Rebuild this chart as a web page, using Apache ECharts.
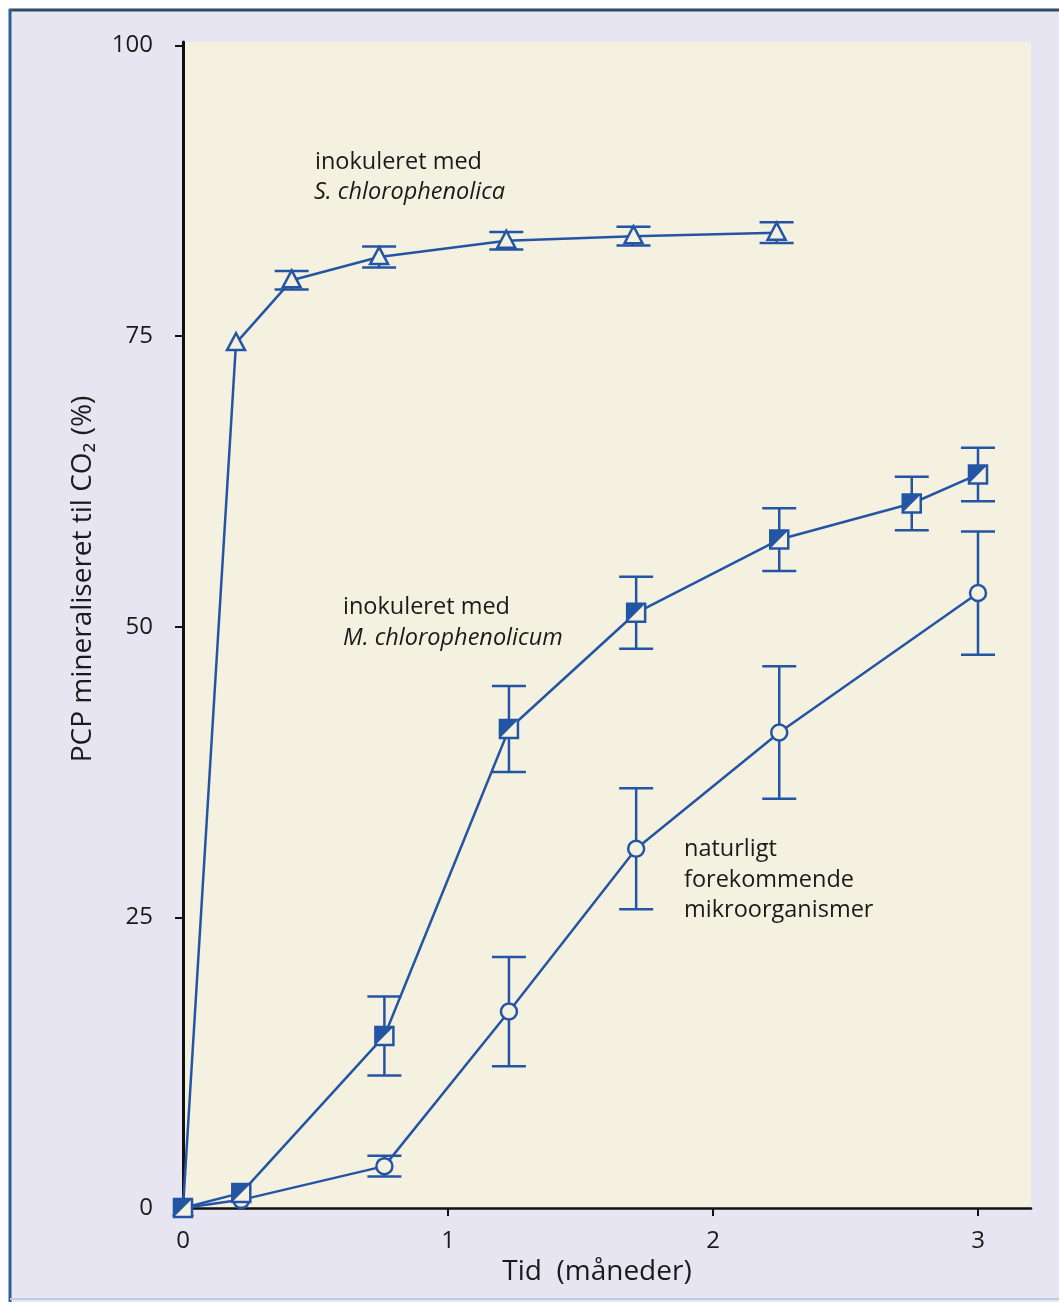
<!DOCTYPE html>
<html>
<head>
<meta charset="utf-8">
<script src="https://cdn.jsdelivr.net/npm/echarts@6/dist/echarts.min.js"></script>
<style>
  html, body { margin: 0; padding: 0; background: #fff; }
  #chart { width: 1059px; height: 1302px; }
</style>
</head>
<body>
<div id="chart"></div>
<script>
// data: [time in months, % mineralised, +/- error]
var sTime = [0, 0.20, 0.41, 0.74, 1.22, 1.70, 2.24];
var sValue = [0, 74.4, 79.8, 81.8, 83.2, 83.6, 83.9];
var sErr = [0, 0, 0.8, 0.9, 0.75, 0.8, 0.9];

var mTime = [0, 0.22, 0.76, 1.23, 1.71, 2.25, 2.75, 3.0];
var mValue = [0, 1.3, 14.8, 41.2, 51.2, 57.5, 60.6, 63.1];
var mErr = [0, 0, 3.4, 3.7, 3.1, 2.7, 2.3, 2.3];

var nTime = [0, 0.22, 0.76, 1.23, 1.71, 2.25, 3.0];
var nValue = [0, 0.7, 3.6, 16.9, 30.9, 40.9, 52.9];
var nErr = [0, 0, 0.9, 4.7, 5.2, 5.7, 5.3];

var xTicks = [0, 1, 2, 3];
var yTicks = [0, 25, 50, 75, 100];

var blue = '#2455a4';
var beige = '#f5f1e0';
var font = '"Open Sans", "Noto Sans", sans-serif';

function zipPts(t, v, e) {
  var out = [];
  for (var i = 0; i < t.length; i++) out.push([t[i], v[i], e[i]]);
  return out;
}

// error bar + marker, marker is 'tri', 'sq' or 'circ'
function makeRender(kind) {
  return function (params, api) {
    var x = api.value(0), y = api.value(1), e = api.value(2);
    var p = api.coord([x, y]);
    var kids = [];
    var lw = 2.5, cap = 17;
    if (e > 0) {
      var top = api.coord([x, y + e]);
      var bot = api.coord([x, y - e]);
      var st = { stroke: blue, lineWidth: lw };
      kids.push({ type: 'line', shape: { x1: p[0], y1: top[1], x2: p[0], y2: bot[1] }, style: st });
      kids.push({ type: 'line', shape: { x1: p[0] - cap, y1: top[1], x2: p[0] + cap, y2: top[1] }, style: st });
      kids.push({ type: 'line', shape: { x1: p[0] - cap, y1: bot[1], x2: p[0] + cap, y2: bot[1] }, style: st });
    }
    var ms = { stroke: blue, lineWidth: 2.5, fill: beige };
    if (kind === 'tri') {
      kids.push({ type: 'polygon', shape: { points: [[p[0], p[1] - 10], [p[0] + 9, p[1] + 7], [p[0] - 9, p[1] + 7]] }, style: ms });
    } else if (kind === 'sq') {
      var h = 9;
      kids.push({ type: 'rect', shape: { x: p[0] - h, y: p[1] - h, width: 2 * h, height: 2 * h }, style: ms });
      kids.push({ type: 'polygon', shape: { points: [[p[0] - h, p[1] - h], [p[0] + h, p[1] - h], [p[0] - h, p[1] + h]] }, style: { fill: blue } });
    } else {
      kids.push({ type: 'circle', shape: { cx: p[0], cy: p[1], r: 8 }, style: ms });
    }
    return { type: 'group', children: kids };
  };
}

function lineSeries(t, v) {
  var d = [];
  for (var i = 0; i < t.length; i++) d.push([t[i], v[i]]);
  return {
    type: 'line', data: d, symbol: 'none', silent: true,
    lineStyle: { color: blue, width: 2.5 }, z: 2
  };
}

function markSeries(t, v, e, kind) {
  return {
    type: 'custom', data: zipPts(t, v, e), renderItem: makeRender(kind),
    encode: { x: 0, y: 1 }, z: 3, clip: false, silent: true
  };
}

var chart = echarts.init(document.getElementById('chart'));

var txt = '23.5px ' + font;
var itxt = 'italic 23.5px ' + font;

var option = {
  backgroundColor: '#e6e5f1',
  animation: false,
  grid: { left: 183, right: 28, top: 42, bottom: 94, show: true, backgroundColor: beige, borderWidth: 0 },
  xAxis: {
    type: 'value', min: 0, max: 3.2,
    name: 'Tid  (måneder)', nameLocation: 'middle', nameGap: 45,
    nameTextStyle: { fontSize: 28, color: '#1a1a1a', fontFamily: font, padding: [0, 20, 0, 0] },
    axisLine: { lineStyle: { color: '#111', width: 2.5 } },
    axisTick: { customValues: xTicks, length: 8, lineStyle: { color: '#111', width: 2 } },
    axisLabel: { customValues: xTicks, fontSize: 24, color: '#1a1a1a', fontFamily: font, margin: 21 },
    splitLine: { show: false }
  },
  yAxis: {
    type: 'value', min: 0, max: 100.3,
    name: 'PCP mineraliseret til CO₂ (%)', nameLocation: 'middle', nameGap: 86,
    nameTextStyle: { fontSize: 28, color: '#1a1a1a', fontFamily: font, padding: [0, 0, 0, 92] },
    axisLine: { lineStyle: { color: '#111', width: 3 } },
    axisTick: { customValues: yTicks, length: 8, lineStyle: { color: '#111', width: 2 } },
    axisLabel: { customValues: yTicks, fontSize: 24, color: '#1a1a1a', fontFamily: font, margin: 30 },
    splitLine: { show: false }
  },
  graphic: [
    { type: 'rect', shape: { x: 0, y: 0, width: 1059, height: 9 }, style: { fill: '#fff' }, silent: true },
    { type: 'rect', shape: { x: 0, y: 0, width: 9, height: 1302 }, style: { fill: '#fff' }, silent: true },
    { type: 'line', shape: { x1: 9, y1: 10, x2: 1059, y2: 10 }, style: { stroke: '#2f4a68', lineWidth: 3 }, silent: true },
    { type: 'line', shape: { x1: 10, y1: 9, x2: 10, y2: 1302 }, style: { stroke: '#2f5f95', lineWidth: 3 }, silent: true },
    { type: 'line', shape: { x1: 10, y1: 1299, x2: 1059, y2: 1299 }, style: { stroke: '#bccbe3', lineWidth: 2 }, silent: true },
    { type: 'text', left: 315, top: 150, z: 10, style: { text: 'inokuleret med', font: txt, fill: '#1a1a1a' } },
    { type: 'text', left: 314, top: 181, z: 10, style: { text: 'S. chlorophenolica', font: itxt, fill: '#1a1a1a' } },
    { type: 'text', left: 343, top: 595, z: 10, style: { text: 'inokuleret med', font: txt, fill: '#1a1a1a' } },
    { type: 'text', left: 343, top: 627, z: 10, style: { text: 'M. chlorophenolicum', font: itxt, fill: '#1a1a1a' } },
    { type: 'text', left: 684, top: 837, z: 10, style: { text: 'naturligt', font: txt, fill: '#1a1a1a' } },
    { type: 'text', left: 684, top: 868, z: 10, style: { text: 'forekommende', font: txt, fill: '#1a1a1a' } },
    { type: 'text', left: 684, top: 898, z: 10, style: { text: 'mikroorganismer', font: txt, fill: '#1a1a1a' } }
  ],
  series: [
    lineSeries(sTime, sValue),
    lineSeries(mTime, mValue),
    lineSeries(nTime, nValue),
    markSeries(sTime, sValue, sErr, 'tri'),
    markSeries(nTime, nValue, nErr, 'circ'),
    markSeries(mTime, mValue, mErr, 'sq')
  ]
};

chart.setOption(option);
</script>
</body>
</html>
